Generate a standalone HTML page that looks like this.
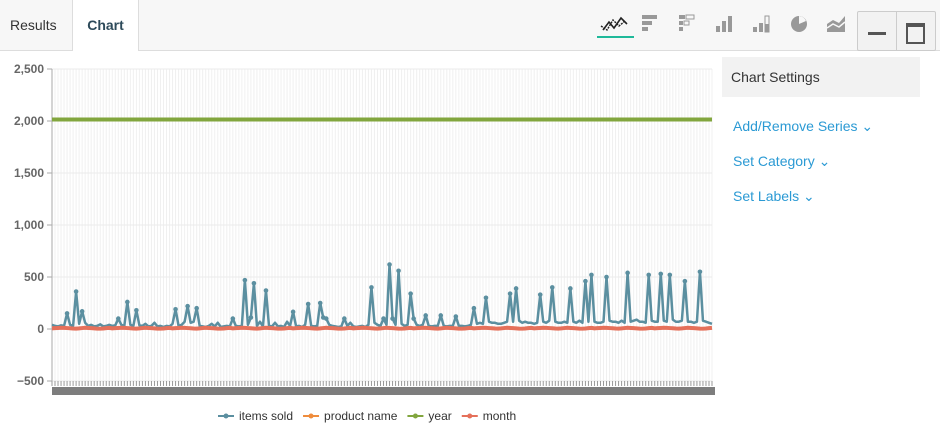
<!DOCTYPE html>
<html><head><meta charset="utf-8">
<style>
body{margin:0;width:940px;height:442px;overflow:hidden;background:#fff;font-family:"Liberation Sans",sans-serif;position:relative}
.topbar{position:absolute;left:0;top:0;width:940px;height:50px;background:#f7f7f7;border-bottom:1px solid #ddd}
.tab{position:absolute;top:0;height:50px;line-height:50px;font-size:14px;color:#333}
.tab.active{background:#fff;border-left:1px solid #ddd;border-right:1px solid #ddd;height:51px;color:#2d4a5a;font-weight:bold}
.icon{position:absolute;top:14px}
.settings{position:absolute;left:722px;top:57px;width:198px;height:40px;background:#f2f2f2;font-size:14px;color:#333;line-height:40px;text-indent:9px}
.link{position:absolute;left:733px;font-size:14px;color:#2b9ad4}
</style></head><body>
<div class="topbar">
  <div class="tab" style="left:10px">Results</div>
  <div class="tab active" style="left:72px;width:65px;text-align:center">Chart</div>
  <svg class="icon" style="left:597px;top:12px" width="38" height="28"><polyline points="6,18 12,10 17,16 24,6 30,12" fill="none" stroke="#222" stroke-width="1.6"/><polyline points="4,14 10,18 16,8 22,14 28,9" fill="none" stroke="#222" stroke-width="1.4" stroke-dasharray="2,1"/><rect x="0" y="24" width="37" height="2" fill="#1fb99a"/></svg>
  <svg class="icon" style="left:642px" width="16" height="20"><rect x="0" y="1" width="15" height="4" fill="#999"/><rect x="0" y="7" width="10" height="4" fill="#999"/><rect x="0" y="13" width="6" height="4" fill="#999"/></svg>
  <svg class="icon" style="left:679px" width="16" height="20"><rect x="0" y="1" width="6" height="4" fill="#999"/><rect x="7" y="1" width="8" height="4" fill="none" stroke="#999"/><rect x="0" y="7" width="4" height="4" fill="#999"/><rect x="5" y="7" width="5" height="4" fill="none" stroke="#999"/><rect x="0" y="13" width="4" height="4" fill="#999"/></svg>
  <svg class="icon" style="left:716px" width="20" height="20"><rect x="0" y="12" width="4" height="6" fill="#999"/><rect x="6" y="7" width="4" height="11" fill="#999"/><rect x="12" y="2" width="4" height="16" fill="#999"/></svg>
  <svg class="icon" style="left:753px" width="20" height="20"><rect x="0" y="13" width="4" height="5" fill="#999"/><rect x="6" y="9" width="4" height="9" fill="#999"/><rect x="12" y="2" width="4" height="16" fill="none" stroke="#999"/><rect x="12" y="10" width="4" height="8" fill="#999"/></svg>
  <svg class="icon" style="left:790px" width="20" height="20"><circle cx="9" cy="10" r="8" fill="#999"/><path d="M9,10 L9,2 A8,8 0 0 1 16,7 Z" fill="#f7f7f7"/></svg>
  <svg class="icon" style="left:827px" width="20" height="20"><path d="M0,10 L6,6 L12,9 L18,2 L18,18 L0,18Z" fill="#999"/><path d="M0,14 L6,10 L12,13 L18,8" stroke="#f7f7f7" stroke-width="1.5" fill="none"/></svg>
  <div style="position:absolute;left:857px;top:11px;width:77px;height:38px;border:1px solid #ccc;border-radius:2px;background:#f2f2f2">
    <div style="position:absolute;left:38px;top:0;width:1px;height:38px;background:#ccc"></div>
    <div style="position:absolute;left:10px;top:20px;width:18px;height:3px;background:#555"></div>
    <div style="position:absolute;left:48px;top:11px;width:15px;height:15px;border:2px solid #555;border-top-width:4px"></div>
  </div>
</div>
<div class="settings">Chart Settings</div>
<div class="link" style="top:118px">Add/Remove Series ⌄</div>
<div class="link" style="top:153px">Set Category ⌄</div>
<div class="link" style="top:188px">Set Labels ⌄</div>
<svg id="chart" width="720" height="442" style="position:absolute;left:0;top:0"></svg>
<script>
const yTicks=[-500,0,500,1000,1500,2000,2500];
const yTickLabels=["−500","0","500","1,000","1,500","2,000","2,500"];
const itemsSold=[40,30,25,35,30,150,40,30,360,50,170,60,30,40,25,30,45,25,30,40,
30,35,100,40,30,260,40,30,180,35,30,50,25,30,60,25,30,20,30,25,
50,190,30,40,70,220,60,70,200,30,25,20,30,50,25,60,20,25,30,25,
100,30,25,30,470,40,110,440,30,70,25,370,30,25,60,25,30,20,70,30,
165,25,30,20,40,240,30,25,30,250,110,100,40,30,25,20,25,100,30,60,
25,20,25,30,20,40,400,60,40,30,100,40,620,100,40,560,50,30,40,340,
100,40,30,40,130,30,25,30,30,130,30,25,30,30,120,30,30,25,30,40,
200,50,60,50,300,70,60,60,50,50,60,70,340,70,390,80,60,70,60,60,
50,60,330,70,60,80,400,70,60,60,70,60,390,70,60,80,60,460,70,520,
70,60,60,70,500,80,70,70,60,80,60,540,70,80,90,70,70,60,520,80,
70,70,530,80,70,520,90,70,70,80,460,70,70,60,70,550,80,70,60,50];
const yearStr="2014";
const monthStr="6,8,10,12,11,9,7,5,4,6,9,12,10,8,6,4,3,5,8,11";
const year=itemsSold.map(()=>+yearStr);
const monthBase=monthStr.split(",").map(Number);
const month=itemsSold.map((_,i)=>monthBase[i%monthBase.length]);
const legendNames=["items sold","product name","year","month"];
const legendColors=["#5b8fa0","#ef8c3c","#82a63e","#e5705a"];

const NS="http://www.w3.org/2000/svg",svg=document.getElementById("chart");
const L=52,R=712,T=69,B=381,yMin=-500,yMax=2500,N=itemsSold.length;
const X=i=>L+i*(R-L)/(N-1),Y=v=>B-(v-yMin)/(yMax-yMin)*(B-T);
function mk(t,a,p){const e=document.createElementNS(NS,t);for(const k in a)e.setAttribute(k,a[k]);(p||svg).appendChild(e);return e;}
const grid=mk("g",{});
for(let i=0;i<N;i++){mk("line",{x1:X(i),x2:X(i),y1:T,y2:B,stroke:"#f0f0f0","stroke-width":1},grid);}
yTicks.forEach((v,k)=>{mk("line",{x1:L,x2:R,y1:Y(v),y2:Y(v),stroke:"#ebebeb"},grid);
 mk("line",{x1:L-5,x2:L,y1:Y(v),y2:Y(v),stroke:"#aaa"},grid);
 const t=mk("text",{x:L-8,y:Y(v)+4,"text-anchor":"end","font-size":12,"font-weight":"bold",fill:"#666"});t.textContent=yTickLabels[k];
 });
mk("line",{x1:L,x2:L,y1:T,y2:B,stroke:"#aaa"});
const xt=mk("g",{});
for(let i=0;i<N;i++)mk("line",{x1:X(i),x2:X(i),y1:B,y2:B+5,stroke:"#999","stroke-width":1},xt);
const xl=mk("rect",{x:L,y:B+6,width:R-L+3,height:8,fill:"#7d7d7d"});
function series(data,color,w,dots,name){
 const g=mk("g",{});
 mk("polyline",{points:data.map((v,i)=>X(i)+","+Y(v)).join(" "),fill:"none",stroke:color,"stroke-width":w,"stroke-linejoin":"round"},g);
 if(dots)data.forEach((v,i)=>{if(v>90)mk("circle",{cx:X(i),cy:Y(v),r:2.3,fill:color},g);});
}
series(year,"#82a63e",4,false,"year-series");
series(itemsSold,"#5b8fa0",2.5,true,"items-sold-series");
series(month,"#e5705a",4,false,"month-series");
let lx=218;
legendNames.forEach((n,k)=>{const g=mk("g",{});
 mk("line",{x1:lx,x2:lx+16,y1:416,y2:416,stroke:legendColors[k],"stroke-width":2},g);
 mk("circle",{cx:lx+8,cy:416,r:2.5,fill:legendColors[k]},g);
 const t=mk("text",{x:lx+21,y:420,"font-size":12,fill:"#333"},g);t.textContent=n;
 lx+=21+t.getComputedTextLength()+10;});
</script>
</body></html>
